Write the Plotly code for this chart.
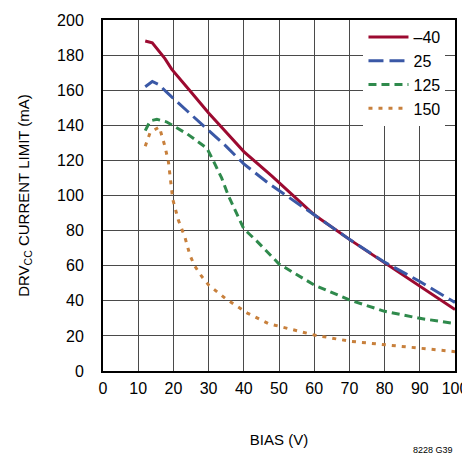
import plotly.graph_objects as go

# bias voltage (V) and current limit (mA) per temperature
bias_m40 = [12, 14, 17.6, 19.5, 25, 30, 35, 40, 48, 60, 70, 80, 90, 100]
ilim_m40 = [188, 187, 178, 172, 159, 147, 136, 125, 111, 89, 75, 61.5, 48, 35]

bias_25 = [12, 14, 16, 18, 24, 30, 35, 40, 47, 60, 70, 80, 90, 100]
ilim_25 = [162, 165, 163, 159, 148, 137, 128, 118, 107, 89, 75, 62, 51, 39]

bias_125 = [12, 13.4, 15.3, 18, 24, 29.5, 31.3, 33.7, 35.6, 40, 43.7, 50, 60, 70, 80, 90, 100]
ilim_125 = [137, 142.5, 143.4, 142, 135, 127, 120, 110, 100, 81, 74, 61, 49, 40.5, 34, 30, 27]

bias_150 = [12, 13.4, 16, 17.6, 18.6, 19.8, 21.4, 23.3, 24.7, 26, 28, 30, 35, 41, 47, 60, 70, 80, 90, 100]
ilim_150 = [128, 136, 139, 128, 119, 98, 86, 76, 66, 60, 54, 49, 41, 33, 27, 20.5, 17, 15, 13, 11]

FONT = "Liberation Sans Narrow, Arial Narrow, Liberation Sans, sans-serif"

fig = go.Figure()
series = [
    ("\u201340", bias_m40, ilim_m40, "#9c0a30", "solid"),
    ("25", bias_25, ilim_25, "#3a58a6", "15px,6px"),
    ("125", bias_125, ilim_125, "#2f8a4c", "8px,5px"),
    ("150", bias_150, ilim_150, "#c8803c", "4px,6px"),
]
for name, x, y, color, dash in series:
    fig.add_trace(go.Scatter(x=x, y=y, name=name, mode="lines",
                             line=dict(color=color, width=3, dash=dash)))

axis_common = dict(showgrid=True, gridcolor="#4a4a4a", gridwidth=1,
                   showline=True, linecolor="black", linewidth=2, mirror=True,
                   zeroline=False, ticks="", automargin=False,
                   tickfont=dict(size=16, color="black"))

# the page body has an 8px margin, so the figure margins are offset by it
fig.update_layout(
    width=470, height=464,
    margin=dict(l=95, r=23, t=12, b=101),
    paper_bgcolor="white", plot_bgcolor="white",
    font=dict(family=FONT, color="black"),
    showlegend=True,
    legend=dict(x=0.74, y=1.0, xanchor="left", yanchor="top",
                bgcolor="white", font=dict(size=16),
                tracegroupgap=0, itemwidth=40),
    xaxis=dict(range=[0, 100], dtick=10, ticklabelstandoff=2,
               title=dict(text="BIAS (V)", font=dict(size=15), standoff=38),
               **axis_common),
    yaxis=dict(range=[0, 200], dtick=20, ticklabelstandoff=14,
               title=dict(text="DRV<sub>CC</sub> CURRENT LIMIT (mA)", font=dict(size=15), standoff=24),
               **axis_common),
)

fig.add_annotation(text="8228 G39", xref="paper", yref="paper", x=1.0, y=-0.225,
                   xanchor="right", yanchor="middle", showarrow=False,
                   font=dict(size=9, color="black"))

fig.write_html("out.html")
